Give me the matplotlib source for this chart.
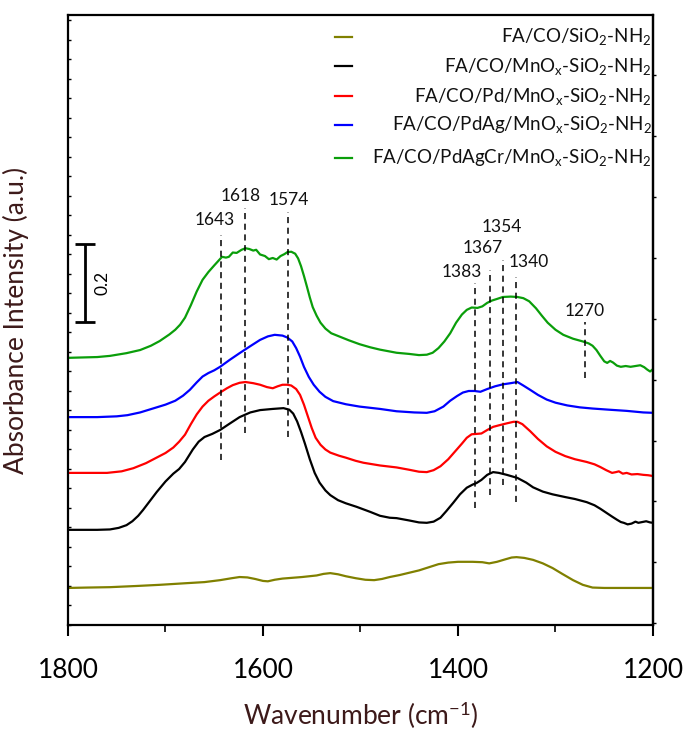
import matplotlib
matplotlib.use("Agg")
import matplotlib.pyplot as plt

plt.rcParams['font.family'] = ['Lato', 'DejaVu Sans']
plt.rcParams['mathtext.fontset'] = 'custom'
plt.rcParams['mathtext.rm'] = 'Lato'
plt.rcParams['mathtext.it'] = 'Lato:italic'

# ---- data (wavenumber, absorbance with stacking offset) ----
olive_w = [1800, 1780, 1757, 1730, 1706, 1680, 1660, 1644, 1632, 1624, 1616, 1608, 1600, 1595, 1588, 1580,
           1570, 1560, 1545, 1538, 1531, 1523, 1515, 1505, 1495, 1486, 1478, 1470, 1460, 1450, 1440, 1430,
           1420, 1410, 1400, 1385, 1375, 1368, 1360, 1352, 1345, 1340, 1332, 1323, 1313, 1303, 1293, 1282,
           1272, 1262, 1250, 1200]
olive_v = [0.095, 0.096, 0.097, 0.100, 0.103, 0.107, 0.110, 0.115, 0.120, 0.123, 0.122, 0.118, 0.113, 0.112,
           0.116, 0.119, 0.121, 0.123, 0.127, 0.131, 0.133, 0.130, 0.125, 0.120, 0.116, 0.115, 0.118, 0.123,
           0.128, 0.134, 0.140, 0.148, 0.156, 0.160, 0.162, 0.162, 0.161, 0.158, 0.162, 0.168, 0.173, 0.174,
           0.172, 0.167, 0.158, 0.146, 0.131, 0.115, 0.103, 0.096, 0.095, 0.095]

black_w = [1800, 1770, 1757, 1748, 1740, 1734, 1728, 1723, 1716, 1709, 1700, 1692, 1686, 1680, 1672, 1666,
           1660, 1652, 1644, 1635, 1624, 1613, 1603, 1590, 1579, 1573, 1569, 1565, 1561, 1557, 1552, 1547,
           1542, 1536, 1531, 1523, 1515, 1504, 1490, 1480, 1470, 1463, 1450, 1440, 1432, 1425, 1418, 1412,
           1405, 1398, 1391, 1385, 1381, 1376, 1370, 1364, 1358, 1350, 1339, 1330, 1323, 1313, 1303, 1290,
           1280, 1268, 1260, 1254, 1248, 1242, 1237, 1233, 1230, 1226, 1222, 1218, 1215, 1211, 1207, 1203, 1200]
black_v = [0.244, 0.244, 0.245, 0.249, 0.256, 0.266, 0.280, 0.295, 0.318, 0.341, 0.368, 0.388, 0.400, 0.418,
           0.450, 0.470, 0.482, 0.490, 0.500, 0.515, 0.533, 0.545, 0.551, 0.554, 0.556, 0.552, 0.542, 0.522,
           0.495, 0.465, 0.425, 0.390, 0.365, 0.345, 0.333, 0.320, 0.312, 0.303, 0.290, 0.280, 0.275, 0.274,
           0.268, 0.263, 0.262, 0.265, 0.275, 0.292, 0.313, 0.335, 0.352, 0.360, 0.364, 0.372, 0.385, 0.392,
           0.390, 0.385, 0.377, 0.365, 0.353, 0.342, 0.335, 0.328, 0.323, 0.315, 0.307, 0.298, 0.288, 0.278,
           0.270, 0.264, 0.262, 0.258, 0.260, 0.265, 0.262, 0.264, 0.266, 0.263, 0.262]

red_w = [1800, 1760, 1745, 1733, 1720, 1710, 1700, 1692, 1686, 1680, 1674, 1668, 1662, 1656, 1650, 1644,
         1637, 1631, 1624, 1618, 1610, 1603, 1596, 1590, 1585, 1580, 1575, 1571, 1566, 1562, 1558, 1554,
         1550, 1546, 1541, 1536, 1531, 1522, 1515, 1505, 1497, 1480, 1463, 1450, 1440, 1432, 1425, 1418,
         1410, 1403, 1396, 1391, 1386, 1381, 1376, 1370, 1364, 1358, 1350, 1343, 1339, 1334, 1326, 1318,
         1309, 1300, 1290, 1280, 1268, 1260, 1254, 1248, 1242, 1238, 1235, 1231, 1227, 1222, 1216, 1210,
         1205, 1200]
red_v = [0.390, 0.390, 0.394, 0.402, 0.415, 0.428, 0.441, 0.455, 0.470, 0.488, 0.515, 0.540, 0.560, 0.575,
         0.586, 0.596, 0.607, 0.615, 0.621, 0.623, 0.620, 0.616, 0.610, 0.607, 0.612, 0.616, 0.616, 0.614,
         0.605, 0.590, 0.565, 0.535, 0.505, 0.480, 0.462, 0.450, 0.442, 0.434, 0.429, 0.421, 0.416, 0.409,
         0.404, 0.398, 0.393, 0.392, 0.397, 0.407, 0.425, 0.445, 0.465, 0.480, 0.489, 0.490, 0.491, 0.500,
         0.508, 0.512, 0.517, 0.521, 0.521, 0.515, 0.497, 0.477, 0.458, 0.444, 0.433, 0.425, 0.418, 0.412,
         0.405, 0.397, 0.390, 0.392, 0.394, 0.388, 0.390, 0.386, 0.387, 0.385, 0.384, 0.382]

blue_w = [1800, 1770, 1750, 1739, 1726, 1713, 1700, 1690, 1682, 1675, 1668, 1662, 1656, 1650, 1644, 1634,
          1624, 1613, 1603, 1595, 1588, 1580, 1575, 1570, 1566, 1562, 1558, 1553, 1548, 1542, 1536, 1528,
          1515, 1501, 1480, 1463, 1445, 1432, 1424, 1415, 1408, 1401, 1395, 1389, 1383, 1377, 1370, 1362,
          1354, 1346, 1339, 1333, 1326, 1318, 1309, 1300, 1288, 1275, 1262, 1245, 1227, 1210, 1200]
blue_v = [0.533, 0.533, 0.535, 0.538, 0.545, 0.555, 0.565, 0.575, 0.588, 0.603, 0.622, 0.637, 0.646, 0.653,
          0.662, 0.680, 0.697, 0.715, 0.731, 0.740, 0.744, 0.742, 0.737, 0.727, 0.710, 0.688, 0.662, 0.636,
          0.616, 0.598, 0.585, 0.574, 0.566, 0.560, 0.554, 0.548, 0.545, 0.544, 0.548, 0.560, 0.575, 0.587,
          0.596, 0.600, 0.600, 0.598, 0.605, 0.612, 0.617, 0.620, 0.623, 0.614, 0.603, 0.590, 0.578, 0.570,
          0.563, 0.558, 0.555, 0.552, 0.549, 0.545, 0.544]

green_w = [1800, 1770, 1757, 1740, 1726, 1715, 1706, 1696, 1690, 1685, 1680, 1674, 1668, 1662, 1656, 1650,
           1646, 1642, 1638, 1635, 1631, 1627, 1622, 1618, 1614, 1610, 1607, 1603, 1598, 1594, 1590, 1586,
           1582, 1578, 1575, 1571, 1567, 1564, 1561, 1558, 1555, 1552, 1549, 1545, 1541, 1536, 1530, 1522,
           1512, 1501, 1490, 1480, 1463, 1450, 1440, 1432, 1426, 1420, 1414, 1408, 1402, 1396, 1391, 1386,
           1380, 1375, 1370, 1365, 1360, 1354, 1346, 1339, 1333, 1327, 1320, 1314, 1308, 1300, 1292, 1282,
           1272, 1266, 1262, 1258, 1254, 1250, 1247, 1244, 1241, 1237, 1233, 1228, 1223, 1218, 1213, 1209,
           1206, 1203, 1200]
green_v = [0.685, 0.687, 0.690, 0.697, 0.705, 0.716, 0.728, 0.745, 0.757, 0.770, 0.788, 0.820, 0.855, 0.885,
           0.905, 0.922, 0.933, 0.944, 0.942, 0.944, 0.955, 0.954, 0.962, 0.966, 0.964, 0.960, 0.962, 0.950,
           0.946, 0.938, 0.941, 0.937, 0.946, 0.951, 0.956, 0.957, 0.952, 0.940, 0.920, 0.895, 0.868, 0.840,
           0.815, 0.793, 0.775, 0.760, 0.748, 0.740, 0.730, 0.720, 0.712, 0.706, 0.698, 0.695, 0.692, 0.693,
           0.698, 0.710, 0.727, 0.748, 0.775, 0.796, 0.808, 0.814, 0.813, 0.817, 0.826, 0.832, 0.836, 0.841,
           0.842, 0.841, 0.838, 0.830, 0.812, 0.793, 0.775, 0.757, 0.744, 0.734, 0.727, 0.722, 0.716, 0.705,
           0.690, 0.676, 0.672, 0.677, 0.673, 0.665, 0.662, 0.664, 0.662, 0.664, 0.666, 0.661, 0.655, 0.650,
           0.656]

series_w = [olive_w, black_w, red_w, blue_w, green_w]
series_v = [olive_v, black_v, red_v, blue_v, green_v]
series_colors = ['#808000', '#000000', '#ff0000', '#0000ff', '#0a9e0a']
series_labels = [r'FA/CO/SiO$_2$-NH$_2$',
                 r'FA/CO/MnO$_\mathrm{x}$-SiO$_2$-NH$_2$',
                 r'FA/CO/Pd/MnO$_\mathrm{x}$-SiO$_2$-NH$_2$',
                 r'FA/CO/PdAg/MnO$_\mathrm{x}$-SiO$_2$-NH$_2$',
                 r'FA/CO/PdAgCr/MnO$_\mathrm{x}$-SiO$_2$-NH$_2$']

# peak markers: wavenumber, line bottom, line top, label x, label y
peak_w = [1643, 1618, 1574, 1383, 1367, 1354, 1340, 1270]
peak_lo = [0.423, 0.492, 0.482, 0.300, 0.333, 0.359, 0.315, 0.633]
peak_hi = [1.000, 1.069, 1.059, 0.877, 0.910, 0.936, 0.892, 0.777]
peak_lx = [1649, 1623, 1574, 1396, 1375, 1355, 1327, 1270]
peak_ly = [1.038, 1.100, 1.090, 0.905, 0.967, 1.021, 0.931, 0.805]

fig = plt.figure(figsize=(6.91, 7.31), dpi=100)
ax = fig.add_axes([68/691, 106/731, 585/691, 610/731])

for w, v, c in zip(series_w, series_v, series_colors):
    ax.plot(w, v, color=c, lw=1.6, solid_joinstyle='round')

for w, lo, hi, lx, ly in zip(peak_w, peak_lo, peak_hi, peak_lx, peak_ly):
    ax.plot([w, w], [lo, hi], color='black', lw=1.1, ls=(0, (4, 3)))
    ax.text(lx, ly, str(w), ha='center', va='center', fontsize=12.5, color='#111111')

# scale bar 0.2
ax.errorbar([1782.6], [0.877], yerr=[0.1], color='black', lw=2, capsize=7, capthick=2)
ax.text(1765, 0.877, '0.2', rotation=90, ha='center', va='center', fontsize=12.5)

# legend (manual, right-aligned text)
leg_y = [0.964, 0.916, 0.867, 0.820, 0.766]
for lab, c, yy in zip(series_labels, series_colors, leg_y):
    ax.plot([0.457, 0.486], [yy, yy], color=c, lw=1.6, transform=ax.transAxes)
    ax.text(0.998, yy, lab, ha='right', va='center', fontsize=13.5, color='#111111',
            transform=ax.transAxes)

ax.set_xlim(1800, 1200)
ax.set_ylim(0, 1.564)
ax.set_xticks([1800, 1600, 1400, 1200])
ax.set_xticks([1700, 1500, 1300], minor=True)
ax.tick_params(axis='x', which='major', direction='out', length=8, width=1.5, labelsize=19, pad=16)
ax.tick_params(axis='x', which='minor', direction='out', length=5, width=1.2)
ax.set_yticks([i * 0.05 for i in range(32)])
ax.tick_params(axis='y', which='major', direction='in', length=2.5, width=1, labelleft=False)
sec = ax.secondary_yaxis('right')
sec.set_yticks([0.005 + i * 0.156 for i in range(10)])
sec.tick_params(axis='y', direction='out', length=2.5, width=1, labelright=False)
sec.spines['right'].set_linewidth(1.6)
for s in ax.spines.values():
    s.set_linewidth(1.6)

ax.set_xlabel('Wavenumber (cm$^{-1}$)', fontsize=19, color='#3d1a1a', labelpad=12)
ax.set_ylabel('Absorbance Intensity (a.u.)', fontsize=19, color='#3d1a1a', labelpad=28)

fig.savefig('out.png', dpi=100)
